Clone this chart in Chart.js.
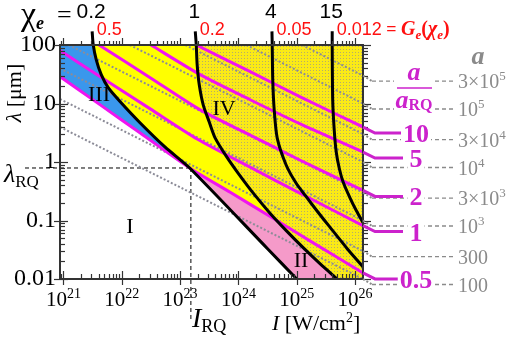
<!DOCTYPE html>
<html><head><meta charset="utf-8">
<script src="https://cdn.jsdelivr.net/npm/chart.js@4.4.0/dist/chart.umd.min.js"></script>
<style>html,body{margin:0;padding:0;background:#fff;}</style>
</head><body>
<canvas id="c" width="508" height="337"></canvas>
<script>
// ---------- data ----------
const I_MIN = 8.71e20, I_MAX = 1.37e26, L_MIN = 0.01, L_MAX = 100;
const xTickExps = [21, 22, 23, 24, 25, 26];
const yTickLabels = ['0.01', '0.1', '1', '10', '100'];
const I_RQ = 1.53e23, L_RQ = 0.79;

// chi_e curves [I (W/cm2), lambda (um)], top -> bottom
const chi02 = [[3.10e21,171],[3.23e21,102],[3.64e21,56.4],[4.44e21,31.1],[5.85e21,18.6],[9.40e21,10.7],[2.07e22,4.64],[5.55e22,1.79],[1.46e23,0.79],[3.16e24,0.0329],[1.0e25,0.01]];
const chi1  = [[1.82e23,171],[1.89e23,102],[1.96e23,46.2],[2.13e23,20.9],[2.49e23,9.49],[3.16e23,4.83],[4.00e23,2.56],[6.18e23,1.26],[9.93e23,0.641],[1.87e24,0.279],[3.51e24,0.132],[6.88e24,0.0645],[1.29e25,0.0343],[2.53e25,0.0181],[4.95e25,0.01]];
const chi4  = [[3.76e24,171],[3.80e24,102],[3.88e24,25.5],[4.11e24,7.78],[4.63e24,2.56],[6.61e24,0.881],[9.80e24,0.432],[1.40e25,0.268],[2.34e25,0.137],[3.76e25,0.0757],[7.35e25,0.033],[1.37e26,0.0161]];
const chi15 = [[4.06e25,171],[4.06e25,102],[4.14e25,11.6],[4.40e25,3.52],[4.76e25,1.48],[5.36e25,0.782],[6.27e25,0.45],[8.27e25,0.239],[1.05e26,0.148],[1.37e26,0.0923]];
const chiLabels = ['0.2', '1', '4', '15'];
const gLabels = ['0.5', '0.2', '0.05', '0.012'];

// a / a_RQ curves, left -> right
const m05 = [[8.7e20,28.9],[4.27e21,9.48],[2.07e22,3.13],[1.46e23,0.79],[7.24e23,0.303],[3.51e24,0.117],[1.71e25,0.0444],[1.37e26,0.0127]];
const m1  = [[8.7e20,80.4],[4.27e21,28.7],[3.07e22,8.09],[1.96e23,2.47],[1.59e24,0.815],[1.15e25,0.291],[1.37e26,0.0818]];
const m2  = [[3.95e21,102],[3.07e22,27.6],[2.21e23,7.78],[1.59e24,2.89],[1.15e25,1.07],[1.37e26,0.327]];
const m5  = [[3.07e22,102],[2.21e23,31.1],[1.59e24,11.6],[1.15e25,4.47],[1.37e26,1.48]];
const m10 = [[1.82e23,102],[1.59e24,35.0],[1.15e25,13.0],[1.37e26,3.96]];
const mLabels = ['0.5', '1', '2', '5', '10'];

// constant-a dotted lines: start and end points
const aStart = [[8.71e20,3.96],[8.71e20,11.9],[8.71e20,39.6],[1.23e21,100],[1.37e22,100],[1.23e23,100],[1.37e24,100],[1.23e25,100]];
const aEnd   = [[1.37e26,0.01],[1.37e26,0.03],[1.37e26,0.1],[1.37e26,0.3],[1.37e26,1],[1.37e26,3],[1.37e26,10],[1.37e26,30]];
const aLabelBase = ['100', '300', '10', '3×10', '10', '3×10', '10', '3×10'];
const aLabelSup  = ['', '', '3', '3', '4', '4', '5', '5'];

// ---------- styles ----------
const SERIF = "'Liberation Serif','DejaVu Serif',serif";
const SANS = "'Liberation Sans','DejaVu Sans',sans-serif";
const MAG = '#f014f0', MAGT = '#cc22cc', GREY = '#8a8a8a';
const BLUE = '#3a97ec', PINK = '#f59ac9', YEL = '#ffff00';

const toXY = arr => arr.map(p => ({x: p[0], y: p[1]}));
function lineDs(pts, color, width, opts) {
  return Object.assign({data: toXY(pts), showLine: true, borderColor: color, borderWidth: width,
    pointRadius: 0, pointHoverRadius: 0, fill: false, tension: 0.25}, opts || {});
}
const datasets = [];
[chi02, chi1, chi4, chi15].forEach(c => datasets.push(lineDs(c, '#000', 3, {order: 1, clip: false})));
const mags = [m05, m1, m2, m5, m10];
mags.forEach(c => datasets.push(lineDs(c, MAG, 3, {order: 2})));
aStart.forEach((s, i) => datasets.push(lineDs([s, aEnd[i]], '#8c8c98', 2, {order: 3, borderDash: [2, 2], tension: 0})));

let pattern = null;
function getPattern(ctx) {
  if (pattern) return pattern;
  const pc = document.createElement('canvas'); pc.width = 3; pc.height = 3;
  const g = pc.getContext('2d');
  g.fillStyle = '#faea16'; g.fillRect(0, 0, 3, 3);
  g.fillStyle = '#b4ac6c'; g.fillRect(1, 1, 1, 1);
  pattern = ctx.createPattern(pc, 'repeat');
  return pattern;
}
function P(chart, p) { return [chart.scales.x.getPixelForValue(p[0]), chart.scales.y.getPixelForValue(p[1])]; }
function leftOf(chart, pts, side) {
  const a = chart.chartArea, Q = pts.map(p => P(chart, p)), path = new Path2D();
  const far = side === 'right' ? a.right + 300 : a.left - 300;
  path.moveTo(Q[0][0], a.top - 300);
  Q.forEach(q => path.lineTo(q[0], q[1]));
  path.lineTo(Q[Q.length - 1][0], a.bottom + 300);
  path.lineTo(far, a.bottom + 300); path.lineTo(far, a.top - 300); path.closePath();
  return path;
}
function belowOf(chart, pts, side) {
  const a = chart.chartArea, Q = pts.map(p => P(chart, p)), path = new Path2D();
  const far = side === 'above' ? a.top - 300 : a.bottom + 300;
  path.moveTo(a.left - 300, Q[0][1]);
  Q.forEach(q => path.lineTo(q[0], q[1]));
  path.lineTo(a.right + 300, Q[Q.length - 1][1]);
  path.lineTo(a.right + 300, far); path.lineTo(a.left - 300, far); path.closePath();
  return path;
}
function runs(ctx, list, x, y, align) {
  let w = 0;
  list.forEach(r => { ctx.font = r[1]; w += ctx.measureText(r[0]).width; });
  let cx = align === 'center' ? x - w / 2 : (align === 'right' ? x - w : x);
  ctx.textAlign = 'left'; ctx.textBaseline = 'alphabetic';
  list.forEach(r => { ctx.font = r[1]; ctx.fillText(r[0], cx, y + (r[2] || 0)); cx += ctx.measureText(r[0]).width; });
  return w;
}
function seg(ctx, x1, y1, x2, y2) { ctx.beginPath(); ctx.moveTo(x1, y1); ctx.lineTo(x2, y2); ctx.stroke(); }

const regionPlugin = {
  id: 'regions',
  beforeDatasetsDraw(chart) {
    const ctx = chart.ctx, a = chart.chartArea, W = a.right - a.left, H = a.bottom - a.top;
    ctx.save();
    ctx.beginPath(); ctx.rect(a.left, a.top, W, H); ctx.clip();
    ctx.fillStyle = YEL; ctx.fill(leftOf(chart, chi1));
    ctx.fillStyle = getPattern(ctx); ctx.fill(leftOf(chart, chi1, 'right'));
    ctx.save(); ctx.clip(leftOf(chart, chi1)); ctx.clip(belowOf(chart, m05));
    ctx.fillStyle = PINK; ctx.fillRect(a.left, a.top, W, H); ctx.restore();
    ctx.fillStyle = '#fff'; ctx.fill(leftOf(chart, chi02));
    ctx.save(); ctx.clip(leftOf(chart, chi02)); ctx.clip(belowOf(chart, m05, 'above'));
    ctx.fillStyle = BLUE; ctx.fillRect(a.left, a.top, W, H); ctx.restore();
    ctx.restore();
    // RQ dashed guides
    const [xr, yr] = P(chart, [I_RQ, L_RQ]);
    ctx.save(); ctx.strokeStyle = '#000'; ctx.lineWidth = 1; ctx.setLineDash([4, 3]);
    seg(ctx, 25, yr, xr, yr); seg(ctx, xr, yr, xr, 320);
    ctx.restore();
  },
  afterDraw(chart) {
    const ctx = chart.ctx, a = chart.chartArea, xs = chart.scales.x, ys = chart.scales.y;
    ctx.save();
    // ticks
    ctx.strokeStyle = '#333'; ctx.lineWidth = 1.2;
    for (let e = 20; e <= 26; e++) for (let k = 1; k <= 9; k++) {
      const v = k * Math.pow(10, e); if (v < I_MIN || v > I_MAX) continue;
      const x = Math.round(xs.getPixelForValue(v)) + 0.5, major = k === 1;
      seg(ctx, x, a.bottom, x, a.bottom - (major ? 8 : 5));
      if (major) seg(ctx, x, a.bottom, x, a.bottom + 6);
      seg(ctx, x, a.top, x, a.top - (major ? 7 : 4));
    }
    for (let e = -2; e <= 2; e++) for (let k = 1; k <= 9; k++) {
      const v = k * Math.pow(10, e); if (v > L_MAX * 1.0001) continue;
      const y = Math.round(ys.getPixelForValue(v)) + 0.5, major = k === 1;
      seg(ctx, a.left, y, a.left + (major ? 8 : 5), y);
      if (major) seg(ctx, a.left - 6, y, a.left, y);
      seg(ctx, a.right, y, a.right + (major ? 8 : 5), y);
    }
    // frame
    ctx.lineWidth = 2; ctx.strokeStyle = '#333';
    ctx.strokeRect(a.left, a.top, a.right - a.left, a.bottom - a.top);

    // grey leaders for constant-a lines
    aEnd.forEach((p, i) => {
      const ye = ys.getPixelForValue(p[1]), yl = ye + 5.5;
      ctx.strokeStyle = GREY; ctx.lineWidth = 2; ctx.setLineDash([2, 2]);
      seg(ctx, a.right, ye, a.right + 9, yl);
      ctx.lineWidth = 1.3; ctx.setLineDash([4, 3]);
      seg(ctx, a.right + 9, yl, 455, yl);
      ctx.setLineDash([]);
      ctx.fillStyle = GREY;
      runs(ctx, [[aLabelBase[i], `20px ${SERIF}`], [aLabelSup[i], `13px ${SERIF}`, -8]], 458, yl + 7);
    });
    // magenta leaders
    mags.forEach((m, i) => {
      const p = m[m.length - 1], ye = ys.getPixelForValue(p[1]), yl = ye + 6;
      ctx.strokeStyle = MAGT; ctx.lineWidth = 3;
      ctx.beginPath(); ctx.moveTo(a.right, ye); ctx.lineTo(a.right + 12, yl); ctx.lineTo(403, yl); ctx.stroke();
      ctx.font = `bold 26px ${SERIF}`;
      const w = ctx.measureText(mLabels[i]).width;
      ctx.fillStyle = '#fff'; ctx.fillRect(416 - w / 2 - 2, yl - 11, w + 4, 22);
      ctx.fillStyle = MAGT;
      runs(ctx, [[mLabels[i], `bold 26px ${SERIF}`]], 416, yl + 9, 'center');
    });
    // fraction a / a_RQ
    ctx.fillStyle = '#fff'; ctx.fillRect(394, 64, 40, 50);
    ctx.fillStyle = MAGT;
    runs(ctx, [['a', `bold italic 26px ${SERIF}`]], 414, 80, 'center');
    ctx.strokeStyle = MAGT; ctx.lineWidth = 1.5; seg(ctx, 397, 88, 432, 88);
    runs(ctx, [['a', `bold italic 26px ${SERIF}`], ['RQ', `bold 16px ${SERIF}`, 2]], 414, 108, 'center');
    ctx.fillStyle = GREY;
    runs(ctx, [['a', `bold italic 26px ${SERIF}`]], 478, 64, 'center');

    // top labels
    ctx.fillStyle = '#000';
    runs(ctx, [['χ', `34px ${SERIF}`], ['e', `bold italic 18px ${SERIF}`, 4]], 21, 25);
    runs(ctx, [['=', `26px ${SERIF}`]], 57, 23);
    [chi02, chi1, chi4, chi15].forEach((c, i) => {
      const x = xs.getPixelForValue(c[0][0]);
      ctx.fillStyle = '#000';
      runs(ctx, [[chiLabels[i], `21px ${SANS}`]], x - 1, 18, 'center');
      ctx.fillStyle = '#ff1010';
      const w = runs(ctx, [[gLabels[i], `18px ${SANS}`]], x + 4.5, 35);
      if (i === 3) {
        runs(ctx, [[' = ', `bold 18px ${SERIF}`], ['G', `bold italic 20px ${SERIF}`], ['e', `bold italic 13px ${SERIF}`, 4],
          ['(', `bold 20px ${SERIF}`], ['χ', `bold italic 20px ${SERIF}`], ['e', `bold italic 13px ${SERIF}`, 4], [')', `bold 20px ${SERIF}`]], x + 4.5 + w, 35);
      }
    });

    // axis titles and x tick labels
    ctx.fillStyle = '#000';
    xTickExps.forEach(e => {
      const x = xs.getPixelForValue(Math.pow(10, e));
      runs(ctx, [['10', `21px ${SERIF}`], [String(e), `14px ${SERIF}`, -8]], x, 306, 'center');
    });
    runs(ctx, [['I', `italic 22px ${SERIF}`], [' [W/cm', `22px ${SERIF}`], ['2', `14px ${SERIF}`, -8], [']', `22px ${SERIF}`]], 272, 330);
    const [xr, yr] = P(chart, [I_RQ, L_RQ]);
    runs(ctx, [['I', `italic 28px ${SERIF}`], ['RQ', `18px ${SERIF}`, 5]], xr + 1, 327);
    runs(ctx, [['λ', `italic 26px ${SERIF}`], ['RQ', `17px ${SERIF}`, 5]], 4, yr + 14);
    ctx.save(); ctx.translate(14, 93); ctx.rotate(-Math.PI / 2);
    runs(ctx, [['λ', `italic 22px ${SERIF}`], [' [μm]', `22px ${SERIF}`]], 0, 7, 'center');
    ctx.restore();
    // region labels
    ctx.fillStyle = '#000';
    runs(ctx, [['I', `22px ${SERIF}`]], 130, 233, 'center');
    runs(ctx, [['II', `22px ${SERIF}`]], 301, 267, 'center');
    runs(ctx, [['III', `22px ${SERIF}`]], 99, 101, 'center');
    runs(ctx, [['IV', `22px ${SERIF}`]], 224, 115, 'center');
    ctx.restore();
  }
};

new Chart(document.getElementById('c'), {
  type: 'scatter',
  data: {datasets},
  plugins: [regionPlugin],
  options: {
    responsive: false, animation: false, devicePixelRatio: 1, events: [],
    layout: {padding: {top: 45, right: 145, left: 0, bottom: 0}},
    plugins: {legend: {display: false}, tooltip: {enabled: false}},
    elements: {line: {capBezierPoints: false}},
    scales: {
      x: {type: 'logarithmic', min: I_MIN, max: I_MAX,
        grid: {display: false, drawTicks: false}, border: {display: false}, ticks: {display: false},
        afterFit(s) { s.height = 58; }},
      y: {type: 'logarithmic', min: L_MIN, max: L_MAX,
        grid: {display: false, drawTicks: false}, border: {display: false},
        ticks: {autoSkip: false, padding: 4, color: '#000', font: {family: SERIF, size: 24},
          callback(v) {
            const l = Math.log10(v), r = Math.round(l);
            return Math.abs(l - r) < 1e-6 ? yTickLabels[r + 2] : '';
          }},
        afterFit(s) { s.width = 60; }}
    }
  }
});
</script>
</body></html>
